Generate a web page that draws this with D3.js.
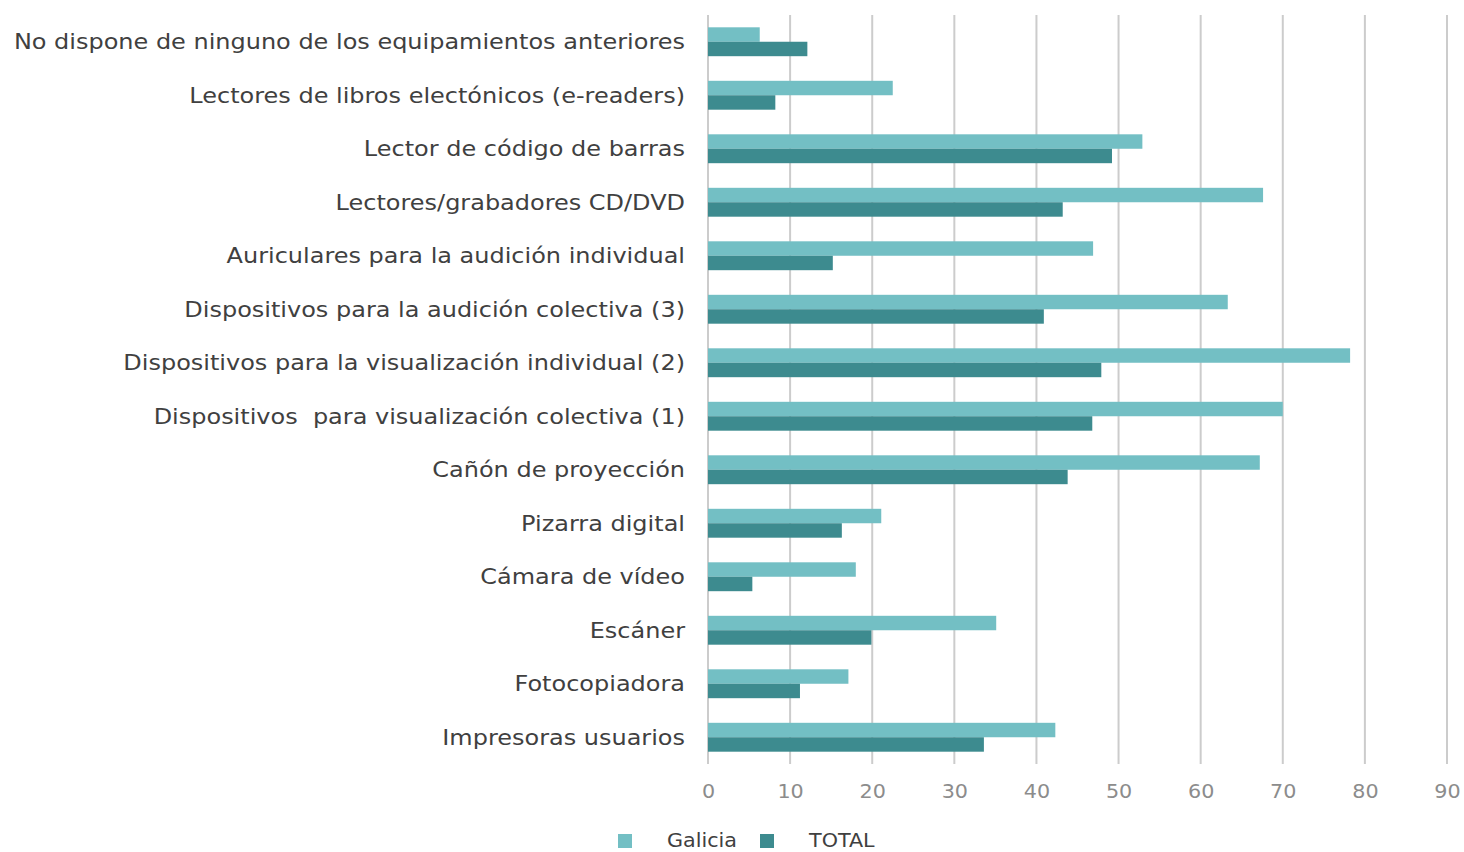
<!DOCTYPE html>
<html>
<head>
<meta charset="utf-8">
<script src="https://cdn.jsdelivr.net/npm/d3@7"></script>
<style>
  html, body { margin: 0; padding: 0; background: #ffffff; }
  svg { display: block; }
  text { font-family: "DejaVu Sans", Verdana, sans-serif; white-space: pre; }
</style>
</head>
<body>
<svg id="chart" width="1464" height="852"></svg>
<script>
const categories = [
  "No dispone de ninguno de los equipamientos anteriores",
  "Lectores de libros electónicos (e-readers)",
  "Lector de código de barras",
  "Lectores/grabadores CD/DVD",
  "Auriculares para la audición individual",
  "Dispositivos para la audición colectiva (3)",
  "Dispositivos para la visualización individual (2)",
  "Dispositivos  para visualización colectiva (1)",
  "Cañón de proyección",
  "Pizarra digital",
  "Cámara de vídeo",
  "Escáner",
  "Fotocopiadora",
  "Impresoras usuarios"
];
const galicia = [6.3, 22.5, 52.9, 67.6, 46.9, 63.3, 78.2, 70.0, 67.2, 21.1, 18.0, 35.1, 17.1, 42.3];
const total   = [12.1, 8.2, 49.2, 43.2, 15.2, 40.9, 47.9, 46.8, 43.8, 16.3, 5.4, 19.9, 11.2, 33.6];
const seriesNames = ["Galicia", "TOTAL"];
const seriesColors = ["#73bfc4", "#3d8b8f"];
const xTicks = [0, 10, 20, 30, 40, 50, 60, 70, 80, 90];

const svg = d3.select("#chart");
const margin = { left: 708, right: 17, top: 15, bottom: 88 };
const W = 1464, H = 852;
const widen = 1.09; // horizontal stretch for the wide humanist look of the labels

const x = d3.scaleLinear().domain([0, 90]).range([margin.left, W - margin.right]);
const y = d3.scaleBand().domain(categories).range([margin.top, H - margin.bottom]).paddingInner(0.46).paddingOuter(0.23);
const ySub = d3.scaleBand().domain(seriesNames).range([0, y.bandwidth()]);

// vertical gridlines
svg.append("g").selectAll("line").data(xTicks).join("line")
  .attr("x1", d => x(d)).attr("x2", d => x(d))
  .attr("y1", margin.top).attr("y2", H - margin.bottom)
  .attr("stroke", "#cccccc").attr("stroke-width", 2);

// bars
const rows = categories.map((c, i) => ({ c, vals: [galicia[i], total[i]] }));
const g = svg.append("g");
rows.forEach(r => {
  r.vals.forEach((v, j) => {
    g.append("rect")
      .attr("x", x(0))
      .attr("y", y(r.c) + ySub(seriesNames[j]))
      .attr("width", x(v) - x(0))
      .attr("height", ySub.bandwidth())
      .attr("fill", seriesColors[j]);
  });
});

// category labels
svg.append("g").selectAll("text").data(categories).join("text")
  .attr("transform", d => `translate(685, ${y(d) + y.bandwidth() / 2}) scale(${widen}, 1)`)
  .attr("dy", "0.35em")
  .attr("text-anchor", "end")
  .attr("font-size", 22)
  .attr("fill", "#404040")
  .text(d => d);

// x-axis tick labels
const xAxis = d3.axisBottom(x).tickValues(xTicks).tickSize(0).tickPadding(0);
const ax = svg.append("g").attr("transform", `translate(0, 798)`).call(xAxis);
ax.select(".domain").remove();
ax.selectAll("text")
  .attr("font-size", 19).attr("fill", "#8c8c8c").attr("dy", "0")
  .attr("transform", `scale(${widen}, 1)`)
  .attr("font-family", "DejaVu Sans, Verdana, sans-serif");

// legend
const legend = svg.append("g");
const legendItems = [{ name: "Galicia", sx: 618, tx: 667 }, { name: "TOTAL", sx: 760, tx: 809 }];
legendItems.forEach((it, i) => {
  legend.append("rect").attr("x", it.sx).attr("y", 834).attr("width", 14).attr("height", 14).attr("fill", seriesColors[i]);
  legend.append("text")
    .attr("transform", `translate(${it.tx}, 847) scale(${widen}, 1)`)
    .attr("font-size", 19).attr("fill", "#404040").text(it.name);
});
</script>
</body>
</html>
